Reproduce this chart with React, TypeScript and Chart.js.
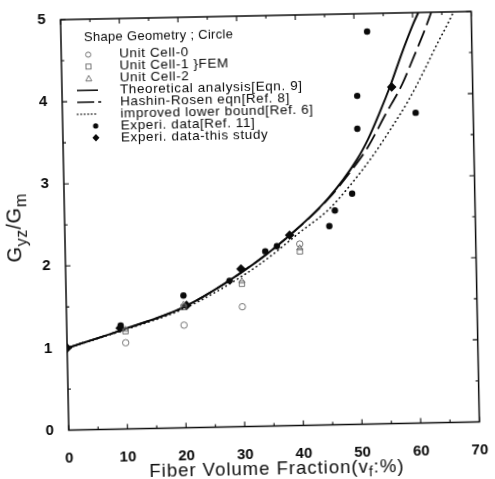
import React, { useEffect, useRef } from 'react';
import { Chart, registerables } from 'chart.js';

Chart.register(...registerables);

const FONT = '"Liberation Sans", Arial, Helvetica, sans-serif';

// Fiber volume fraction v_f (%) against normalized transverse shear modulus G_yz/G_m
const theoryVf = [0, 10, 20, 30, 38, 45, 50, 52, 54, 56, 58, 60, 61];
const theoryG = [1.0, 1.22, 1.47, 1.88, 2.3, 2.76, 3.22, 3.47, 3.78, 4.12, 4.5, 4.85, 5.0];

const hashinVf = [0, 10, 20, 30, 38, 45, 50, 52, 55, 58, 60, 62, 63.2];
const hashinG = [1.0, 1.22, 1.47, 1.88, 2.3, 2.75, 3.18, 3.38, 3.76, 4.13, 4.45, 4.78, 5.0];

const lowerVf = [0, 10, 20, 30, 35, 40, 45, 49, 53, 56, 59, 62, 64, 66, 67];
const lowerG = [1.0, 1.21, 1.45, 1.83, 2.07, 2.35, 2.62, 2.93, 3.29, 3.6, 3.93, 4.32, 4.6, 4.86, 5.0];

const cell0Vf = [10, 20, 30, 40];
const cell0G = [1.05, 1.25, 1.46, 2.21];
const cell1Vf = [10, 20, 30, 40];
const cell1G = [1.19, 1.47, 1.74, 2.12];
const cell2Vf = [10, 20, 30, 40];
const cell2G = [1.21, 1.5, 1.77, 2.16];

const ref11Vf = [9.2, 20.0, 27.9, 34.1, 36.1, 45.1, 46.1, 49.1, 50.2, 50.3, 52.2, 60.2];
const ref11G = [1.26, 1.61, 1.78, 2.13, 2.19, 2.42, 2.61, 2.81, 3.6, 4.0, 4.78, 3.78];

const studyVf = [0, 9.1, 20.5, 29.9, 38.3, 56.2];
const studyG = [1.0, 1.23, 1.49, 1.92, 2.32, 4.1];

const xTicks = [0, 10, 20, 30, 40, 50, 60, 70];
const yTicks = [0, 1, 2, 3, 4, 5];

const LEGEND_TITLE = 'Shape Geometry ; Circle';

const pts = (xs: number[], ys: number[]) => xs.map((x, i) => ({ x, y: ys[i] }));

const INK = '#0a0a0a';
const GREY = '#666';

type Kind = 'circle' | 'square' | 'triangle' | 'solid' | 'dashed' | 'dotted' | 'dot' | 'diamond';

function drawSymbol(ctx: CanvasRenderingContext2D, kind: Kind, x0: number, x1: number, cx: number, y: number) {
  ctx.save();
  ctx.strokeStyle = INK;
  ctx.fillStyle = INK;
  if (kind === 'solid' || kind === 'dashed' || kind === 'dotted') {
    ctx.lineWidth = kind === 'dotted' ? 1.3 : 1.5;
    ctx.lineCap = kind === 'dotted' ? 'round' : 'butt';
    ctx.setLineDash(kind === 'dashed' ? [17, 4, 3, 40] : kind === 'dotted' ? [0.5, 3] : []);
    ctx.beginPath();
    ctx.moveTo(x0, y);
    ctx.lineTo(kind === 'dashed' ? x1 + 5 : x1, y);
    ctx.stroke();
  } else if (kind === 'circle') {
    ctx.strokeStyle = GREY;
    ctx.lineWidth = 0.9;
    ctx.beginPath();
    ctx.arc(cx, y, 2.6, 0, Math.PI * 2);
    ctx.stroke();
  } else if (kind === 'square') {
    ctx.strokeStyle = GREY;
    ctx.lineWidth = 0.9;
    ctx.strokeRect(cx - 2.5, y - 2.5, 5, 5);
  } else if (kind === 'triangle') {
    ctx.strokeStyle = GREY;
    ctx.lineWidth = 0.9;
    ctx.beginPath();
    ctx.moveTo(cx, y - 3);
    ctx.lineTo(cx + 3, y + 2.5);
    ctx.lineTo(cx - 3, y + 2.5);
    ctx.closePath();
    ctx.stroke();
  } else if (kind === 'dot') {
    ctx.beginPath();
    ctx.arc(cx + 6, y, 2.6, 0, Math.PI * 2);
    ctx.fill();
  } else if (kind === 'diamond') {
    ctx.beginPath();
    ctx.moveTo(cx + 6, y - 3.8);
    ctx.lineTo(cx + 9.5, y);
    ctx.lineTo(cx + 6, y + 3.8);
    ctx.lineTo(cx + 2.5, y);
    ctx.closePath();
    ctx.fill();
  }
  ctx.restore();
}

const legendPlugin = {
  id: 'shapeLegend',
  afterDatasetsDraw(chart: any) {
    const { ctx, chartArea: a } = chart;
    ctx.save();
    ctx.fillStyle = INK;
    ctx.textBaseline = 'middle';
    ctx.font = `13px ${FONT}`;
    (ctx as any).letterSpacing = '0.3px';
    ctx.fillText(LEGEND_TITLE, a.left + 23, a.top + 18);
    ctx.font = `13.5px ${FONT}`;
    (ctx as any).letterSpacing = '0.6px';
    chart.data.datasets.forEach((ds: any, i: number) => {
      const y = a.top + 35.5 + i * 11.9;
      drawSymbol(ctx, ds.legendKind as Kind, a.left + 15, a.left + 36, a.left + 27, y);
      ctx.fillStyle = INK;
      ctx.fillText(ds.label, a.left + 58, y);
    });
    ctx.restore();
  },
};

const framePlugin = {
  id: 'frameAndTicks',
  afterDatasetsDraw(chart: any) {
    const { ctx, chartArea: a, scales } = chart;
    const xs = scales.x;
    const ys = scales.y;
    ctx.save();
    ctx.strokeStyle = INK;
    ctx.lineWidth = 1.5;
    ctx.strokeRect(a.left, a.top, a.right - a.left, a.bottom - a.top);
    ctx.lineWidth = 1.1;
    ctx.beginPath();
    for (let v = 0; v <= 5; v += 0.5) {
      const y = ys.getPixelForValue(v);
      const len = Number.isInteger(v) ? 5 : 3;
      ctx.moveTo(a.left, y);
      ctx.lineTo(a.left + len, y);
      ctx.moveTo(a.right, y);
      ctx.lineTo(a.right - len, y);
    }
    for (let v = 0; v <= 70; v += 5) {
      const x = xs.getPixelForValue(v);
      const len = v % 10 === 0 ? 5 : 3;
      ctx.moveTo(x, a.bottom);
      ctx.lineTo(x, a.bottom - len);
      ctx.moveTo(x, a.top);
      ctx.lineTo(x, a.top + len);
    }
    ctx.stroke();
    ctx.restore();
  },
};

type Piece = { t: string; sub?: boolean };

function drawPieces(ctx: CanvasRenderingContext2D, pieces: Piece[], cx: number, base: number, main: number, sub: number, shift: number) {
  const width = pieces.reduce((w, p) => {
    ctx.font = `${p.sub ? sub : main}px ${FONT}`;
    return w + ctx.measureText(p.t).width;
  }, 0);
  let x = cx - width / 2;
  pieces.forEach((p) => {
    ctx.font = `${p.sub ? sub : main}px ${FONT}`;
    ctx.fillText(p.t, x, base + (p.sub ? shift : 0));
    x += ctx.measureText(p.t).width;
  });
}

const axisTitlePlugin = {
  id: 'axisTitles',
  afterDraw(chart: any) {
    const { ctx, chartArea: a } = chart;
    ctx.save();
    ctx.fillStyle = INK;
    ctx.textBaseline = 'alphabetic';
    (ctx as any).letterSpacing = '1px';
    drawPieces(
      ctx,
      [{ t: 'Fiber Volume Fraction(v' }, { t: 'f', sub: true }, { t: ':%)' }],
      (a.left + a.right) / 2 + 2,
      475,
      18.5,
      14,
      4
    );
    (ctx as any).letterSpacing = '0.5px';
    ctx.translate(21, (a.top + a.bottom) / 2 + 2);
    ctx.rotate(-Math.PI / 2);
    drawPieces(
      ctx,
      [{ t: 'G' }, { t: 'yz', sub: true }, { t: '/G' }, { t: 'm', sub: true }],
      0,
      0,
      20,
      16,
      6
    );
    ctx.restore();
  },
};

export default function App() {
  const ref = useRef<HTMLCanvasElement>(null);

  useEffect(() => {
    const canvas = ref.current;
    if (!canvas) return;
    const tickFont = { family: FONT, size: 15, weight: 'bold' as const };
    const chart = new Chart(canvas, {
      type: 'scatter',
      data: {
        datasets: [
          {
            label: 'Unit Cell-0',
            legendKind: 'circle',
            data: pts(cell0Vf, cell0G),
            pointStyle: 'circle',
            pointRadius: 3.2,
            borderColor: GREY,
            borderWidth: 0.9,
            backgroundColor: 'rgba(255,255,255,0)',
          },
          {
            label: 'Unit Cell-1 }FEM',
            legendKind: 'square',
            data: pts(cell1Vf, cell1G),
            pointStyle: 'rect',
            pointRadius: 3.8,
            borderColor: GREY,
            borderWidth: 0.9,
            backgroundColor: 'rgba(255,255,255,0)',
          },
          {
            label: 'Unit Cell-2',
            legendKind: 'triangle',
            data: pts(cell2Vf, cell2G),
            pointStyle: 'triangle',
            pointRadius: 3.4,
            borderColor: GREY,
            borderWidth: 0.9,
            backgroundColor: 'rgba(255,255,255,0)',
          },
          {
            label: 'Theoretical analysis[Eqn. 9]',
            legendKind: 'solid',
            data: pts(theoryVf, theoryG),
            showLine: true,
            pointRadius: 0,
            borderColor: INK,
            borderWidth: 2,
            cubicInterpolationMode: 'monotone',
          },
          {
            label: 'Hashin-Rosen eqn[Ref. 8]',
            legendKind: 'dashed',
            data: pts(hashinVf, hashinG),
            showLine: true,
            pointRadius: 0,
            borderColor: INK,
            borderWidth: 1.8,
            borderDash: [17, 6],
            cubicInterpolationMode: 'monotone',
          },
          {
            label: 'improved lower bound[Ref. 6]',
            legendKind: 'dotted',
            data: pts(lowerVf, lowerG),
            showLine: true,
            pointRadius: 0,
            borderColor: INK,
            borderWidth: 1.6,
            borderDash: [0.5, 4],
            borderCapStyle: 'round',
            cubicInterpolationMode: 'monotone',
          },
          {
            label: 'Experi. data[Ref. 11]',
            legendKind: 'dot',
            data: pts(ref11Vf, ref11G),
            pointStyle: 'circle',
            pointRadius: 3.2,
            borderWidth: 0,
            backgroundColor: INK,
          },
          {
            label: 'Experi. data-this study',
            legendKind: 'diamond',
            data: pts(studyVf, studyG),
            pointStyle: 'rectRot',
            pointRadius: 4.8,
            borderWidth: 0,
            backgroundColor: INK,
          },
        ] as any,
      },
      options: {
        responsive: false,
        animation: false,
        devicePixelRatio: 1,
        layout: { padding: { top: 10, right: 14, left: 0, bottom: 0 } },
        plugins: { legend: { display: false }, tooltip: { enabled: false } },
        scales: {
          x: {
            type: 'linear',
            min: 0,
            max: 70,
            grid: { display: false },
            border: { display: false },
            afterBuildTicks: (s: any) => {
              s.ticks = xTicks.map((v) => ({ value: v }));
            },
            ticks: { font: tickFont, color: INK, padding: 11, maxRotation: 0, autoSkip: false },
            afterFit: (s: any) => {
              s.height = 52.5;
            },
          },
          y: {
            type: 'linear',
            min: 0,
            max: 5,
            grid: { display: false },
            border: { display: false },
            afterBuildTicks: (s: any) => {
              s.ticks = yTicks.map((v) => ({ value: v }));
            },
            ticks: { font: tickFont, color: INK, padding: 7, autoSkip: false },
            afterFit: (s: any) => {
              s.width = 65;
            },
          },
        },
      } as any,
      plugins: [framePlugin, legendPlugin, axisTitlePlugin],
    });
    return () => chart.destroy();
  }, []);

  return (
    <div style={{ position: 'absolute', left: 0, top: 0, width: 495, height: 479, background: '#fff', overflow: 'hidden' }}>
      <canvas
        ref={ref}
        width={495}
        height={479}
        style={{ display: 'block', width: 495, height: 479, transform: 'rotate(-1.15deg)', transformOrigin: '50% 50%' }}
      />
    </div>
  );
}
